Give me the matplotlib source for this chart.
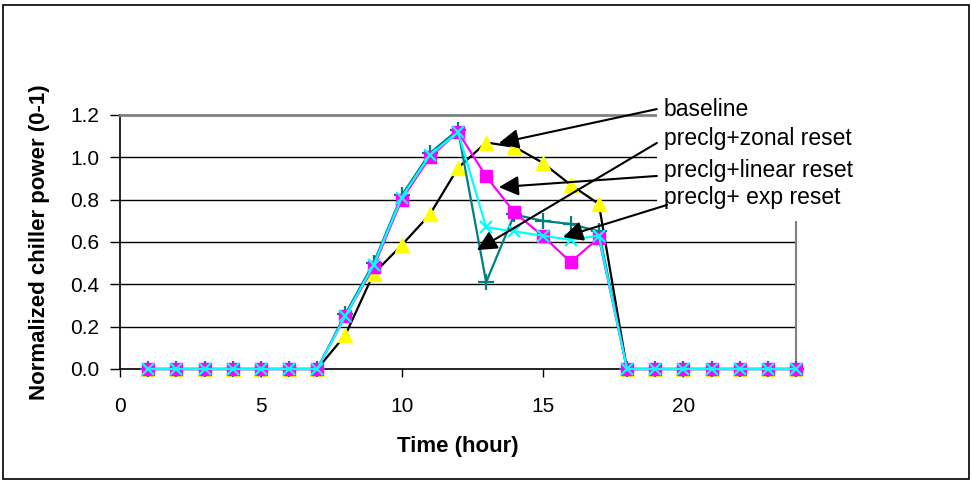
import matplotlib
matplotlib.use("Agg")
import matplotlib.pyplot as plt
from matplotlib.patches import Rectangle

hours = list(range(1, 25))
baseline = [0, 0, 0, 0, 0, 0, 0, 0.16, 0.45, 0.585, 0.73, 0.95, 1.07, 1.05, 0.975, 0.87, 0.78,
            0, 0, 0, 0, 0, 0, 0]
zonal = [0, 0, 0, 0, 0, 0, 0, 0.26, 0.50, 0.82, 1.02, 1.13, 0.41, 0.73, 0.70, 0.685, 0.65,
         0, 0, 0, 0, 0, 0, 0]
linear = [0, 0, 0, 0, 0, 0, 0, 0.25, 0.48, 0.80, 1.00, 1.12, 0.91, 0.74, 0.63, 0.505, 0.62,
          0, 0, 0, 0, 0, 0, 0]
expo = [0, 0, 0, 0, 0, 0, 0, 0.25, 0.49, 0.81, 1.01, 1.12, 0.67, 0.65, 0.63, 0.61, 0.63,
        0, 0, 0, 0, 0, 0, 0]

labels = ["baseline", "preclg+zonal reset", "preclg+linear reset", "preclg+ exp reset"]
arrow_tips = [(13.45, 1.067), (12.67, 0.562), (13.45, 0.859), (15.73, 0.623)]
arrow_tails = [(19.06, 1.228), (19.06, 1.068), (19.06, 0.912), (19.42, 0.775)]
label_pos = [(19.3, 1.228), (19.3, 1.087), (19.3, 0.94), (19.3, 0.808)]
xticks = [0, 5, 10, 15, 20]
yticks = [0.0, 0.2, 0.4, 0.6, 0.8, 1.0, 1.2]

plt.rcParams['font.family'] = ['Liberation Sans', 'DejaVu Sans']

fig = plt.figure(figsize=(9.71, 4.82), dpi=100)
W, H = 971, 482
ax = fig.add_axes([120 / W, 1 - 369 / H, 676 / W, 254 / H])

# outer frame
fig.patches.append(Rectangle((3 / W, 3 / H), 966 / W, 474 / H, transform=fig.transFigure,
                             fill=False, edgecolor='black', lw=1.2))

for y in yticks[1:-1]:
    ax.axhline(y, color='black', lw=1.0, zorder=1)

ax.plot(hours, baseline, color='black', lw=1.6, marker='^', ms=10,
        markerfacecolor='#FFFF00', markeredgecolor='#FFFF00', zorder=3, clip_on=False)
ax.plot(hours, zonal, color='#008080', lw=1.6, marker='+', ms=11, mew=1.6,
        markeredgecolor='#008080', zorder=4, clip_on=False)
ax.plot(hours, linear, color='#FF00FF', lw=1.6, marker='s', ms=9,
        markerfacecolor='#FF00FF', markeredgecolor='#FF00FF', zorder=5, clip_on=False)
ax.plot(hours, expo, color='#00FFFF', lw=1.6, marker='x', ms=9, mew=1.6,
        markeredgecolor='#00FFFF', zorder=6, clip_on=False)

ax.set_xlim(0, 24)
ax.set_ylim(0, 1.2)
ax.set_xticks(xticks)
ax.set_yticks(yticks)
ax.set_yticklabels([f"{v:.1f}" for v in yticks])
ax.tick_params(axis='x', direction='out', length=6, width=1, pad=14, labelsize=15)
ax.tick_params(axis='y', direction='out', length=7, width=1, pad=8, labelsize=15)

for s in ['left', 'bottom']:
    ax.spines[s].set_color('black')
    ax.spines[s].set_linewidth(1.2)
ax.spines['top'].set_color('#808080')
ax.spines['top'].set_linewidth(2)
ax.spines['right'].set_color('#808080')
ax.spines['right'].set_linewidth(1.5)

ax.set_xlabel("Time (hour)", fontsize=16, fontweight='bold')
ax.set_ylabel("Normalized chiller power (0-1)", fontsize=16, fontweight='bold')
ax.xaxis.set_label_coords(0.5, -0.265)
ax.yaxis.set_label_coords(-0.104, 0.5)

# white box covering the label area
ax.add_patch(Rectangle((19.06, 0.70), 6.0, 0.62, facecolor='white', edgecolor='none',
                       zorder=8, clip_on=False))

for lab, (tx, ty) in zip(labels, label_pos):
    ax.text(tx, ty, lab, fontsize=16.5, ha='left', va='center', zorder=9, clip_on=False)

for tip, tail in zip(arrow_tips, arrow_tails):
    ax.annotate("", xy=tip, xytext=tail, xycoords='data', textcoords='data',
                arrowprops=dict(arrowstyle='-|>,head_length=0.6,head_width=0.3',
                                mutation_scale=20, color='black', lw=1.5,
                                shrinkA=0, shrinkB=0),
                zorder=10, annotation_clip=False)

fig.savefig("out.png", dpi=100)
